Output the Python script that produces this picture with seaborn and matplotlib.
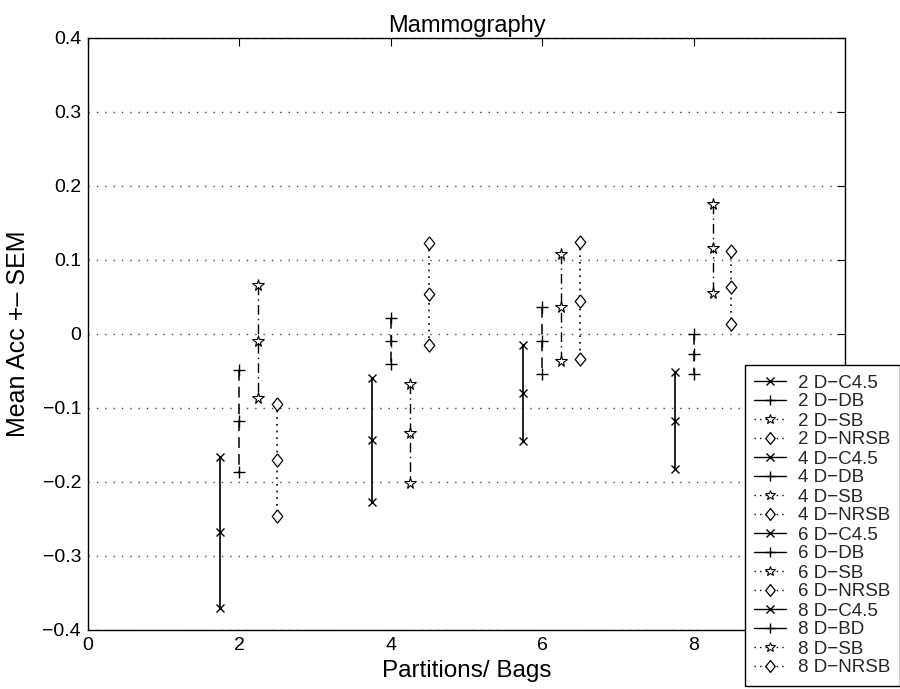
import numpy as np
import pandas as pd
import matplotlib
matplotlib.use("Agg")
import matplotlib.pyplot as plt
from matplotlib.lines import Line2D
import seaborn as sns

# ---- data ----
partitions = [2, 4, 6, 8]
methods = ["C4.5", "DB", "SB", "NRSB"]
offsets = [-0.25, 0.0, 0.25, 0.5]
labels = ["2 D−C4.5", "2 D−DB", "2 D−SB", "2 D−NRSB",
          "4 D−C4.5", "4 D−DB", "4 D−SB", "4 D−NRSB",
          "6 D−C4.5", "6 D−DB", "6 D−SB", "6 D−NRSB",
          "8 D−C4.5", "8 D−BD", "8 D−SB", "8 D−NRSB"]
# mean accuracy difference per partition (index) for each method
mean_c45 = [-0.268, -0.143, -0.080, -0.117]
mean_db = [-0.117, -0.009, -0.009, -0.027]
mean_sb = [-0.010, -0.134, 0.036, 0.116]
mean_nrsb = [-0.170, 0.054, 0.045, 0.063]
sem_c45 = [0.102, 0.084, 0.065, 0.065]
sem_db = [0.069, 0.031, 0.045, 0.027]
sem_sb = [0.076, 0.067, 0.072, 0.060]
sem_nrsb = [0.076, 0.069, 0.079, 0.049]
yticks = [-0.4, -0.3, -0.2, -0.1, 0.0, 0.1, 0.2, 0.3, 0.4]
xticks = [0, 2, 4, 6, 8]

means = [mean_c45, mean_db, mean_sb, mean_nrsb]
sems = [sem_c45, sem_db, sem_sb, sem_nrsb]

sns.set_theme(style="white")
plt.rcParams["font.family"] = ["Liberation Sans", "DejaVu Sans"]
plt.rcParams["axes.unicode_minus"] = True

fig = plt.figure(figsize=(9, 6.89), dpi=100)
ax = fig.add_axes([88 / 900, 1 - 630 / 689, (845 - 88) / 900, (630 - 38) / 689])

diamond = [(0, 1), (0.8, 0), (0, -1), (-0.8, 0), (0, 1)]
styles = {
    "C4.5": dict(marker="x", linestyle="-", legls="-", markersize=6, mew=1.0, lw=1.2),
    "DB": dict(marker="+", linestyle=(0, (7, 4)), legls="-", markersize=8.5, mew=1.0, lw=1.1),
    "SB": dict(marker="*", linestyle=(0, (7, 3, 1, 3)), legls=(0, (1, 3)), markersize=8.5, mew=0.8, lw=1.0),
    "NRSB": dict(marker=diamond, linestyle=(0, (1, 3)), legls=(0, (1, 3)), markersize=9.5, mew=0.9, lw=1.2),
}

handles = []
for i, p in enumerate(partitions):
    for j, m in enumerate(methods):
        mu = means[j][i]
        se = sems[j][i]
        x = p + offsets[j]
        df = pd.DataFrame({"x": [x, x, x], "y": [mu + se, mu, mu - se]})
        st = styles[m]
        sns.lineplot(data=df, x="x", y="y", ax=ax, estimator=None, sort=False,
                     color="black", marker=st["marker"], linestyle=st["linestyle"],
                     markersize=st["markersize"], markeredgewidth=st["mew"],
                     markeredgecolor="black", markerfacecolor="white",
                     linewidth=st["lw"], legend=False)
        handles.append(Line2D([], [], color="black", marker=st["marker"],
                              linestyle=st["legls"], markersize=st["markersize"] * 0.9,
                              markeredgewidth=st["mew"], markeredgecolor="black",
                              markerfacecolor="white", linewidth=1.0))


def fmt(v, pos):
    if abs(v) < 1e-9:
        return "0"
    return ("%.1f" % v).replace("-", "−")


ax.set_xlim(0, 10)
ax.set_ylim(-0.4, 0.4)
ax.set_xticks(xticks)
ax.set_yticks(yticks)
ax.yaxis.set_major_formatter(matplotlib.ticker.FuncFormatter(fmt))
ax.xaxis.set_major_formatter(matplotlib.ticker.FuncFormatter(lambda v, p: "%d" % round(v)))
ax.tick_params(direction="in", length=6, width=0.8, top=True, right=True,
               labelsize=14, colors="black", pad=5)
ax.yaxis.grid(True, linestyle=(0, (1, 5)), color="#444444", linewidth=1.0)
ax.xaxis.grid(False)
for s in ax.spines.values():
    s.set_color("black")
    s.set_linewidth(1.0)

ax.set_title("Mammography", fontsize=17, color="black", pad=4)
ax.set_xlabel("Partitions/ Bags", fontsize=17.5, color="black", labelpad=4)
ax.set_ylabel("Mean Acc +– SEM", fontsize=18, color="black", labelpad=9)

leg = fig.legend(handles, labels, loc="upper left", bbox_to_anchor=(745 / 900, 1 - 365 / 689),
                 fontsize=13.5, frameon=True, fancybox=False, framealpha=1,
                 edgecolor="black", labelspacing=0.1, handlelength=1.7,
                 handletextpad=0.65, borderpad=0.5, borderaxespad=0)
leg.get_frame().set_linewidth(1.0)

fig.savefig("out.png", dpi=100, facecolor="white")
